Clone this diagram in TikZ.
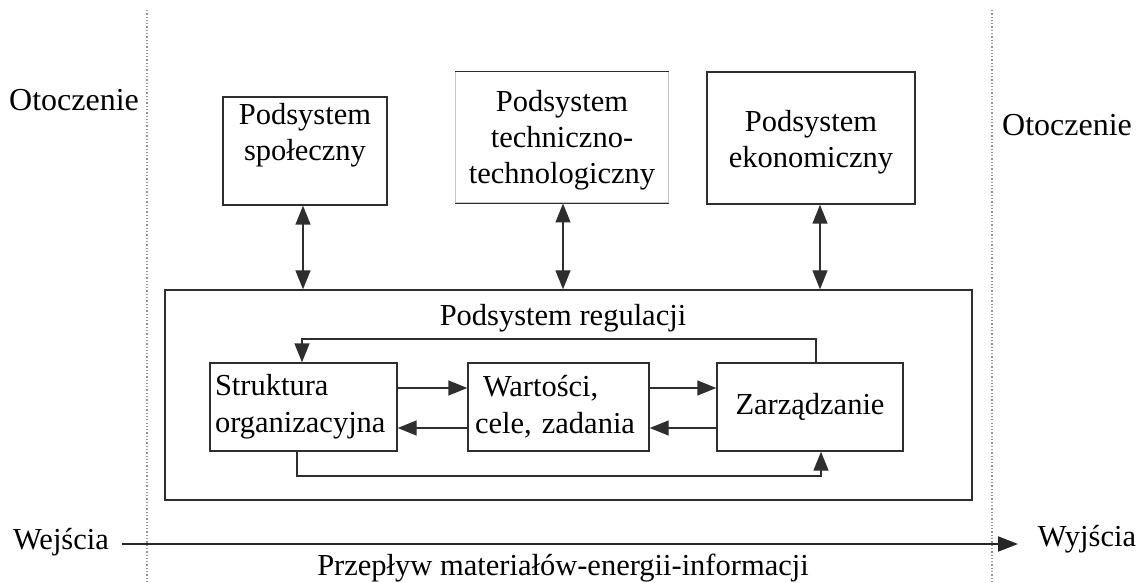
\documentclass[tikz,border=0pt]{standalone}
\usepackage{fontspec}
\setmainfont{Liberation Serif}
\usetikzlibrary{arrows.meta,calc}
\definecolor{ink}{HTML}{2E2E2E}
\tikzset{
  txt/.style={font=\fontsize{30.5}{36}\selectfont, text=black, inner sep=0pt, align=center},
  box/.style={draw=ink, line width=1.4pt, inner sep=0pt},
  link/.style={draw=ink, line width=1.4pt},
  tip/.style={-{Triangle[length=19pt,width=15pt]}},
  both/.style={{Triangle[length=19pt,width=15pt]}-{Triangle[length=19pt,width=15pt]}},
  border/.style={draw=gray!85, line width=1.3pt, dotted}
}
\begin{document}
\begin{tikzpicture}[x=1pt,y=1pt]
\useasboundingbox (0,0) rectangle (1138,582);

% environment boundaries
\coordinate (lt) at (147,572);
\coordinate (lb) at (147,0);
\coordinate (rt) at (992,572);
\coordinate (rb) at (992,0);
\draw[border] (lt) -- (lb);
\draw[border] (rt) -- (rb);
\node[txt, font=\fontsize{32}{36}\selectfont] (otl) at (74,482) {Otoczenie};
\node[txt, font=\fontsize{32}{36}\selectfont] (otr) at (1067,457) {Otoczenie};

% upper subsystems
\node[box, minimum width=164pt, minimum height=108pt] (b1) at (305,431) {};
\node[txt] (b1t) at (305,447) {Podsystem\\społeczny};
\node[draw=gray!45, line width=1pt, inner sep=0pt, minimum width=213pt, minimum height=131pt] (b2) at (562,444.5) {};
\draw[link] (b2.north west) -- (b2.north east);
\draw[link] (b2.south west) -- (b2.south east);
\node[txt] (b2t) at (562,442) {Podsystem\\techniczno-\\technologiczny};
\node[box, minimum width=208pt, minimum height=132pt] (b3) at (811,444) {};
\node[txt] (b3t) at (811,440) {Podsystem\\ekonomiczny};

% regulation subsystem
\node[box, minimum width=807pt, minimum height=210pt] (reg) at (568.5,187) {};
\node[txt] (regt) at (563,264) {Podsystem regulacji};

\node[box, minimum width=187pt, minimum height=88pt, text width=177pt, inner xsep=5pt, align=left,
      font=\fontsize{30.5}{37}\selectfont] (str) at (303.5,175) {Struktura\\organizacyjna};
\node[box, minimum width=181pt, minimum height=88pt, text width=167pt, inner xsep=7pt, align=left,
      font=\fontsize{30.5}{37}\selectfont] (war) at (558.5,175) {\hspace*{8pt}Wartości,\\cele, zadania};
\node[box, minimum width=186pt, minimum height=88pt, font=\fontsize{30.5}{36}\selectfont] (zar) at (810,175) {Zarządzanie};

% links between upper subsystems and regulation
\draw[link, both] (b1.south -| 303,0) -- (reg.north -| 303,0);
\draw[link, both] (b2.south -| 563,0) -- (reg.north -| 563,0);
\draw[link, both] (b3.south -| 820,0) -- (reg.north -| 820,0);

% links inside regulation subsystem
\draw[link, tip] ([yshift=19pt]str.east) -- ([yshift=19pt]war.west);
\draw[link, tip] ([yshift=19pt]war.east) -- ([yshift=19pt]zar.west);
\draw[link, tip] ([yshift=-21pt]zar.west) -- ([yshift=-21pt]war.east);
\draw[link, tip] ([yshift=-21pt]war.west) -- ([yshift=-21pt]str.east);
\draw[link, tip] (zar.north -| 816,0) |- (302,243) -- (str.north -| 302,0);
\draw[link, tip] (str.south -| 297,0) |- (821,106) -- (zar.south -| 821,0);

% material flow
\node[txt] (in) at (61,40) {Wejścia};
\node[txt] (out) at (1087,43) {Wyjścia};
\coordinate (fs) at (122,38);
\coordinate (fe) at (1018,38);
\draw[draw=black!85, line width=2pt, -{Triangle[length=20pt,width=15pt]}] (fs) -- (fe);
\node[txt] (flow) at (563,14) {Przepływ materiałów-energii-informacji};
\end{tikzpicture}
\end{document}
